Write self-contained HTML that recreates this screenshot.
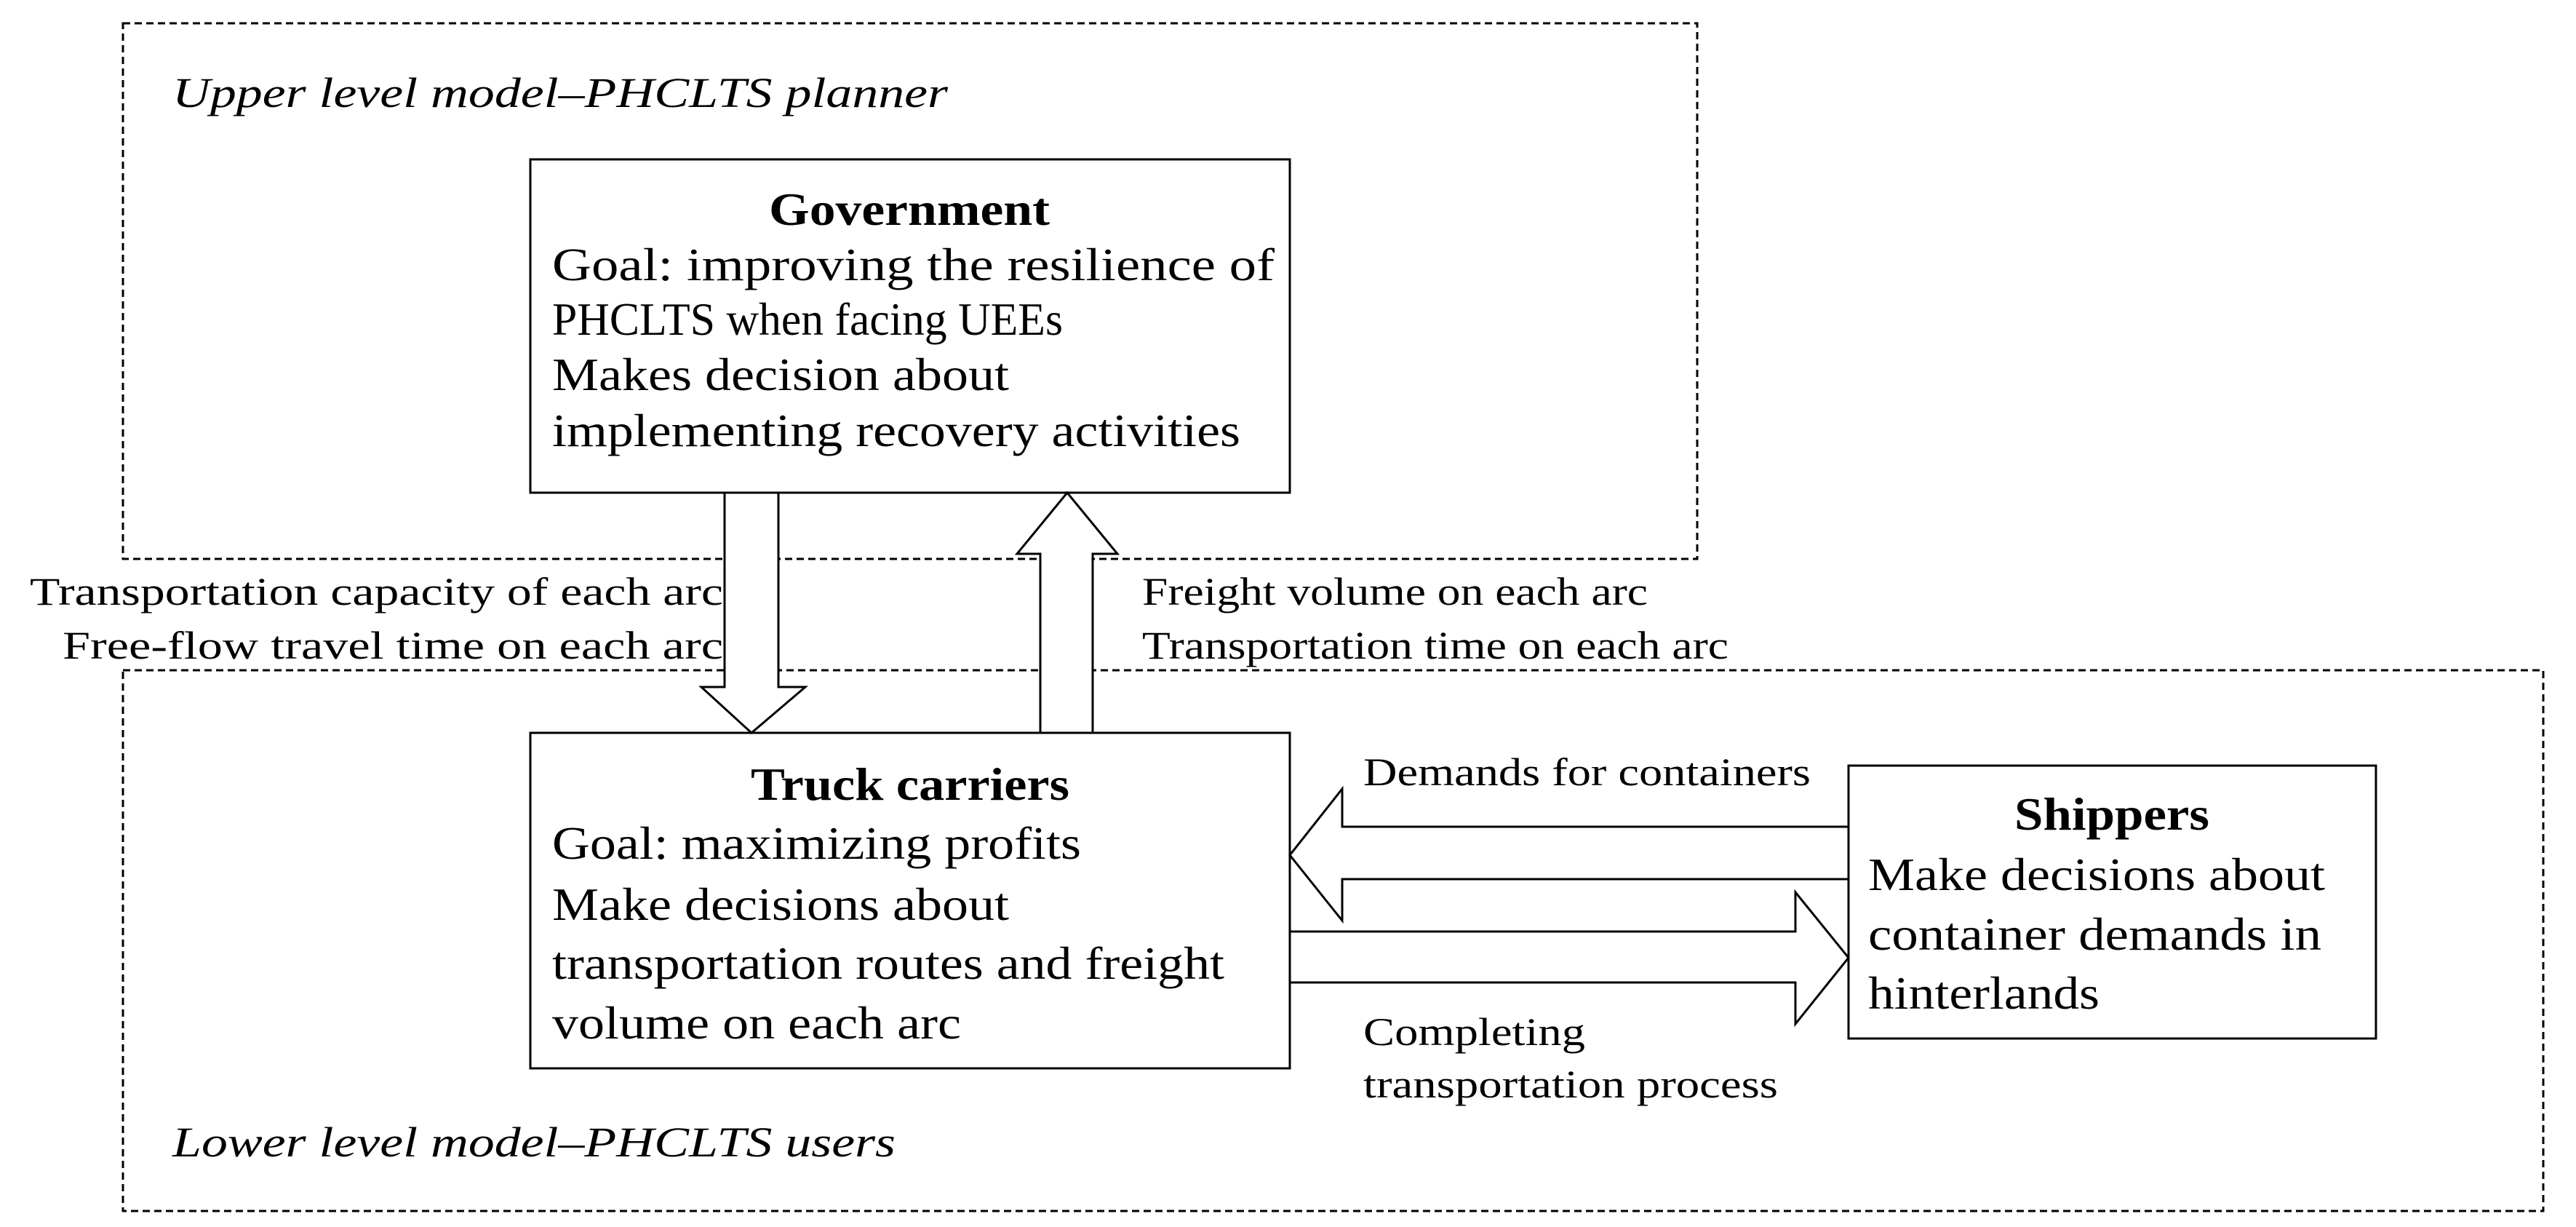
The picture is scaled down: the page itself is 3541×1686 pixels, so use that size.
<!DOCTYPE html>
<html><head><meta charset="utf-8"><style>html,body{margin:0;padding:0;background:#fff}svg{display:block}text{font-family:"Liberation Serif","Times New Roman",serif}</style></head>
<body>
<svg width="3541" height="1686" viewBox="0 0 3541 1686" xmlns="http://www.w3.org/2000/svg" font-family="Liberation Serif, Times New Roman, serif" fill="#000">
<g fill="none" stroke="#000" stroke-width="3" stroke-dasharray="10 6">
<rect x="169" y="32" width="2164" height="736"/>
<rect x="169" y="921" width="3327" height="743"/>
</g>
<g fill="#fff" stroke="#000" stroke-width="3">
<rect x="729" y="219" width="1044" height="458"/>
<rect x="729" y="1007" width="1044" height="461"/>
<rect x="2541" y="1052" width="725" height="375"/>
<polygon points="996,677 1070,677 1070,944 1107,944 1033,1007 964,944 996,944"/>
<polygon points="1430,1007 1502,1007 1502,761 1536,761 1467,677 1398,761 1430,761"/>
<polygon points="2541,1136 1845,1136 1845,1084 1773,1175 1845,1265 1845,1208 2541,1208"/>
<polygon points="1773,1280 2468,1280 2468,1226 2541,1316 2468,1407 2468,1350 1773,1350"/>
</g>
<g font-style="italic" font-size="58">
<text x="237" y="147" textLength="1066" lengthAdjust="spacingAndGlyphs">Upper level model–PHCLTS planner</text>
<text x="237" y="1589" textLength="994" lengthAdjust="spacingAndGlyphs">Lower level model–PHCLTS users</text>
</g>
<g font-size="64" font-weight="bold">
<text x="1057" y="309" textLength="386" lengthAdjust="spacingAndGlyphs">Government</text>
<text x="1032" y="1099" textLength="438" lengthAdjust="spacingAndGlyphs">Truck carriers</text>
<text x="2769" y="1140" textLength="268" lengthAdjust="spacingAndGlyphs">Shippers</text>
</g>
<g font-size="64">
<text x="759" y="385" textLength="993" lengthAdjust="spacingAndGlyphs">Goal: improving the resilience of</text>
<text x="759" y="460" textLength="702" lengthAdjust="spacingAndGlyphs">PHCLTS when facing UEEs</text>
<text x="759" y="536" textLength="628" lengthAdjust="spacingAndGlyphs">Makes decision about</text>
<text x="759" y="613" textLength="946" lengthAdjust="spacingAndGlyphs">implementing recovery activities</text>
<text x="759" y="1180" textLength="727" lengthAdjust="spacingAndGlyphs">Goal: maximizing profits</text>
<text x="759" y="1264" textLength="628" lengthAdjust="spacingAndGlyphs">Make decisions about</text>
<text x="759" y="1345" textLength="924" lengthAdjust="spacingAndGlyphs">transportation routes and freight</text>
<text x="759" y="1427" textLength="562" lengthAdjust="spacingAndGlyphs">volume on each arc</text>
<text x="2568" y="1223" textLength="628" lengthAdjust="spacingAndGlyphs">Make decisions about</text>
<text x="2568" y="1305" textLength="623" lengthAdjust="spacingAndGlyphs">container demands in</text>
<text x="2568" y="1386" textLength="318" lengthAdjust="spacingAndGlyphs">hinterlands</text>
</g>
<g font-size="54">
<text x="41" y="831" textLength="953" lengthAdjust="spacingAndGlyphs">Transportation capacity of each arc</text>
<text x="86" y="905" textLength="908" lengthAdjust="spacingAndGlyphs">Free-flow travel time on each arc</text>
<text x="1570" y="831" textLength="695" lengthAdjust="spacingAndGlyphs">Freight volume on each arc</text>
<text x="1570" y="905" textLength="806" lengthAdjust="spacingAndGlyphs">Transportation time on each arc</text>
<text x="1874" y="1079" textLength="615" lengthAdjust="spacingAndGlyphs">Demands for containers</text>
<text x="1874" y="1436" textLength="305" lengthAdjust="spacingAndGlyphs">Completing</text>
<text x="1874" y="1508" textLength="570" lengthAdjust="spacingAndGlyphs">transportation process</text>
</g>
</svg>
</body></html>
